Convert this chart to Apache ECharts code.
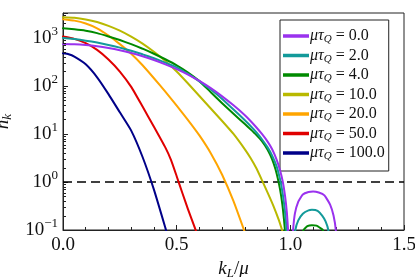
<!DOCTYPE html>
<html><head><meta charset="utf-8">
<script src="https://cdn.jsdelivr.net/npm/echarts@6/dist/echarts.min.js"></script>
<style>html,body{margin:0;padding:0;background:#fff}#c{width:415px;height:277px}</style>
</head><body><div id="c"></div>
<script>
// ---- data (n_k given as log10(n_k)) ----
const tauLabels = ['0.0', '2.0', '4.0', '10.0', '20.0', '50.0', '100.0'];
const seriesColors = ['#9a32ee', '#139a9a', '#008a00', '#b9b900', '#ffa500', '#e00000', '#000088'];

const x_tau0    = [0, 0.05, 0.1, 0.15, 0.2, 0.25, 0.3, 0.35, 0.4, 0.45, 0.5, 0.55, 0.6, 0.65, 0.7, 0.75, 0.8, 0.825, 0.85, 0.875, 0.9, 0.92, 0.94, 0.955, 0.967, 0.977, 0.985, 0.99, 0.995];
const lgN_tau0  = [2.875, 2.870, 2.854, 2.828, 2.791, 2.744, 2.686, 2.618, 2.539, 2.450, 2.350, 2.236, 2.103, 1.953, 1.783, 1.596, 1.39, 1.27, 1.14, 1.0, 0.84, 0.68, 0.46, 0.24, 0.0, -0.3, -0.65, -1.0, -1.6];
const x_tau2    = [0, 0.05, 0.1, 0.15, 0.2, 0.25, 0.3, 0.35, 0.4, 0.45, 0.5, 0.55, 0.6, 0.65, 0.7, 0.75, 0.8, 0.825, 0.85, 0.875, 0.9, 0.92, 0.94, 0.955, 0.965, 0.975, 0.982, 0.987];
const lgN_tau2  = [3.0, 2.976, 2.943, 2.903, 2.854, 2.797, 2.731, 2.658, 2.576, 2.486, 2.388, 2.250, 2.095, 1.925, 1.73, 1.51, 1.285, 1.165, 1.035, 0.89, 0.72, 0.55, 0.32, 0.05, -0.2, -0.55, -0.9, -1.3];
const x_tau4    = [0, 0.05, 0.1, 0.15, 0.2, 0.25, 0.3, 0.35, 0.4, 0.45, 0.5, 0.55, 0.6, 0.65, 0.7, 0.75, 0.8, 0.825, 0.85, 0.875, 0.9, 0.92, 0.935, 0.945, 0.955, 0.965, 0.972, 0.978];
const lgN_tau4  = [3.2, 3.18, 3.15, 3.10, 3.03, 2.955, 2.87, 2.775, 2.67, 2.555, 2.43, 2.28, 2.1, 1.87, 1.64, 1.42, 1.205, 1.095, 0.98, 0.85, 0.67, 0.47, 0.26, 0.07, -0.16, -0.47, -0.78, -1.1];
const x_tau10   = [0, 0.05, 0.1, 0.15, 0.2, 0.25, 0.3, 0.35, 0.4, 0.45, 0.5, 0.55, 0.6, 0.65, 0.7, 0.75, 0.8, 0.825, 0.85, 0.875, 0.9, 0.925, 0.95, 0.965];
const lgN_tau10 = [3.43, 3.42, 3.385, 3.33, 3.25, 3.15, 3.025, 2.88, 2.71, 2.52, 2.30, 2.05, 1.79, 1.53, 1.27, 1.0, 0.68, 0.5, 0.29, 0.04, -0.22, -0.49, -0.8, -1.02];
const x_tau20   = [0, 0.05, 0.1, 0.15, 0.2, 0.25, 0.3, 0.35, 0.4, 0.45, 0.5, 0.55, 0.6, 0.65, 0.7, 0.75, 0.8];
const lgN_tau20 = [3.39, 3.36, 3.30, 3.20, 3.05, 2.87, 2.67, 2.43, 2.16, 1.88, 1.59, 1.29, 0.97, 0.6, 0.15, -0.4, -1.05];
const x_tau50   = [0, 0.05, 0.1, 0.15, 0.2, 0.25, 0.3, 0.35, 0.4, 0.45, 0.475, 0.5, 0.525, 0.55, 0.585];
const lgN_tau50 = [3.03, 2.98, 2.89, 2.75, 2.55, 2.30, 1.98, 1.57, 1.15, 0.72, 0.46, 0.12, -0.23, -0.57, -1.02];
const x_tau100  = [0, 0.025, 0.05, 0.1, 0.15, 0.2, 0.25, 0.3, 0.35, 0.4, 0.45, 0.46];
const lgN_tau100= [2.68, 2.66, 2.61, 2.45, 2.18, 1.83, 1.45, 1.07, 0.52, -0.16, -0.95, -1.12];

// second lobes (above k_L/mu = 1)
const lobeX_tau0   = [1.005, 1.012, 1.02, 1.035, 1.055, 1.08, 1.10, 1.125, 1.15, 1.175, 1.19, 1.2, 1.205];
const lobeLgN_tau0 = [-1.5, -1.0, -0.66, -0.41, -0.26, -0.21, -0.2, -0.22, -0.28, -0.47, -0.7, -1.0, -1.5];
const lobeX_tau2   = [1.015, 1.022, 1.035, 1.055, 1.08, 1.095, 1.12, 1.14, 1.155, 1.167, 1.172];
const lobeLgN_tau2 = [-1.4, -1.0, -0.8, -0.66, -0.59, -0.58, -0.6, -0.7, -0.82, -1.0, -1.4];
const lobeX_tau4   = [1.05, 1.058, 1.075, 1.095, 1.115, 1.135, 1.143, 1.148];
const lobeLgN_tau4 = [-1.22, -1.0, -0.92, -0.9, -0.91, -0.97, -1.0, -1.22];

const xTicks = [0, 0.5, 1.0, 1.5];
const yTickExponents = [-1, 0, 1, 2, 3];
const threshold = 1;
const xRange = [0, 1.5];
const yRange = [0.1, 3300];

// ---- build ----
const mainX = [x_tau0, x_tau2, x_tau4, x_tau10, x_tau20, x_tau50, x_tau100];
const mainL = [lgN_tau0, lgN_tau2, lgN_tau4, lgN_tau10, lgN_tau20, lgN_tau50, lgN_tau100];
const lobes = [[lobeX_tau0, lobeLgN_tau0, 0], [lobeX_tau2, lobeLgN_tau2, 1], [lobeX_tau4, lobeLgN_tau4, 2]];
const zip = (xs, ls) => xs.map((x, i) => [x, Math.pow(10, ls[i])]);

const serif = '"Liberation Serif", "DejaVu Serif", serif';
const series = [];
const lineSeries = (name, data, i) => ({
  name: name, type: 'line', data: data, smooth: 0.15,
  showSymbol: false, symbol: 'none', clip: true,
  lineStyle: { color: seriesColors[i], width: 2, join: 'round', cap: 'round' }, itemStyle: { color: seriesColors[i] },
  z: 10 - i
});
tauLabels.forEach((t, i) => series.push(lineSeries(t, zip(mainX[i], mainL[i]), i)));
lobes.forEach(([lx, ll, i]) => series.push(lineSeries(tauLabels[i], zip(lx, ll), i)));
series.push({
  name: 'threshold', type: 'line', data: [[xRange[0], threshold], [xRange[1], threshold]],
  showSymbol: false, symbol: 'none',
  lineStyle: { color: '#000', width: 1.5, type: [9, 5] }, z: 1
});

const grid = { left: 63, right: 11, top: 13, bottom: 47 };
const chart = echarts.init(document.getElementById('c'), null, { renderer: 'canvas' });
const option = {
  animation: false,
  backgroundColor: '#fff',
  grid: Object.assign({ show: true, borderColor: '#222', borderWidth: 1, backgroundColor: 'transparent',
    containLabel: false, outerBoundsMode: 'none' }, grid),
  legend: {
    data: tauLabels,
    orient: 'vertical', left: 280, top: 20,
    backgroundColor: '#fff', borderColor: '#222', borderWidth: 1, borderRadius: 0,
    padding: [7, 4, 9, 3],
    itemWidth: 26, itemHeight: 3.5, itemGap: 1.5, icon: 'rect',
    formatter: n => '{m|μτ}{s|Q}{t| = ' + n + '}',
    textStyle: {
      fontFamily: serif, fontSize: 16, color: '#111', padding: [0, 0, 0, -4],
      rich: {
        m: { fontFamily: serif, fontStyle: 'italic', fontSize: 16, lineHeight: 14 },
        s: { fontFamily: serif, fontStyle: 'italic', fontSize: 11, lineHeight: 14, padding: [7, 0, 0, 0] },
        t: { fontFamily: serif, fontSize: 16, lineHeight: 14 }
      }
    }
  },
  xAxis: {
    type: 'value', min: xRange[0], max: xRange[1], interval: 0.5,
    axisLine: { show: true, lineStyle: { color: '#222', width: 1 } },
    axisTick: { show: true, inside: true, length: 5, lineStyle: { color: '#222' } },
    minorTick: { show: true, splitNumber: 5, length: 3, lineStyle: { color: '#222' } },
    splitLine: { show: false },
    axisLabel: { margin: 6, fontFamily: serif, fontSize: 19, color: '#111',
      formatter: v => xTicks.some(t => Math.abs(t - v) < 1e-9) ? v.toFixed(1) : '' },
    name: '{it|k}{s|L}{t|/}{it|μ}', nameLocation: 'middle', nameGap: 28,
    nameTextStyle: { fontFamily: serif, fontSize: 19, color: '#111',
      rich: {
        it: { fontFamily: serif, fontStyle: 'italic', fontSize: 19 },
        s: { fontFamily: serif, fontStyle: 'italic', fontSize: 13, padding: [9, 0, 0, 0] },
        t: { fontFamily: serif, fontSize: 19 }
      } }
  },
  yAxis: {
    type: 'log', logBase: 10, min: yRange[0], max: yRange[1],
    axisLine: { show: true, lineStyle: { color: '#222', width: 1 } },
    axisTick: { show: true, inside: true, length: 5, lineStyle: { color: '#222' } },
    splitLine: { show: false },
    axisLabel: { margin: 5, fontFamily: serif, fontSize: 19, color: '#111',
      formatter: v => {
        const e = Math.round(Math.log10(v));
        if (!yTickExponents.includes(e) || Math.abs(Math.log10(v) - e) > 1e-6) return '';
        return '{b|10}{p|' + (e < 0 ? '\u2212' + (-e) : e) + '}';
      },
      rich: {
        b: { fontFamily: serif, fontSize: 19 },
        p: { fontFamily: serif, fontSize: 13, padding: [0, 0, 12, 0] }
      } },
    name: '{it|n}{s|k}', nameLocation: 'middle', nameGap: 34,
    nameTextStyle: { fontFamily: serif, fontSize: 19, color: '#111',
      rich: {
        it: { fontFamily: serif, fontStyle: 'italic', fontSize: 19 },
        s: { fontFamily: serif, fontStyle: 'italic', fontSize: 13, padding: [9, 0, 0, 0] }
      } }
  },
  series: series
};
chart.setOption(option);

// logarithmic minor ticks on the y axis, positioned by the axis scale
const x0 = chart.convertToPixel({ xAxisIndex: 0 }, xRange[0]);
const minor = [];
for (const e of yTickExponents) {
  for (let m = 2; m <= 9; m++) {
    const v = m * Math.pow(10, e);
    if (v > yRange[1]) continue;
    const py = Math.round(chart.convertToPixel({ yAxisIndex: 0 }, v)) + 0.5;
    minor.push({ type: 'line', shape: { x1: x0, y1: py, x2: x0 + 3, y2: py },
      style: { stroke: '#222', lineWidth: 1 }, silent: true, z: 20 });
  }
}
chart.setOption({ graphic: minor });
</script>
</body></html>
